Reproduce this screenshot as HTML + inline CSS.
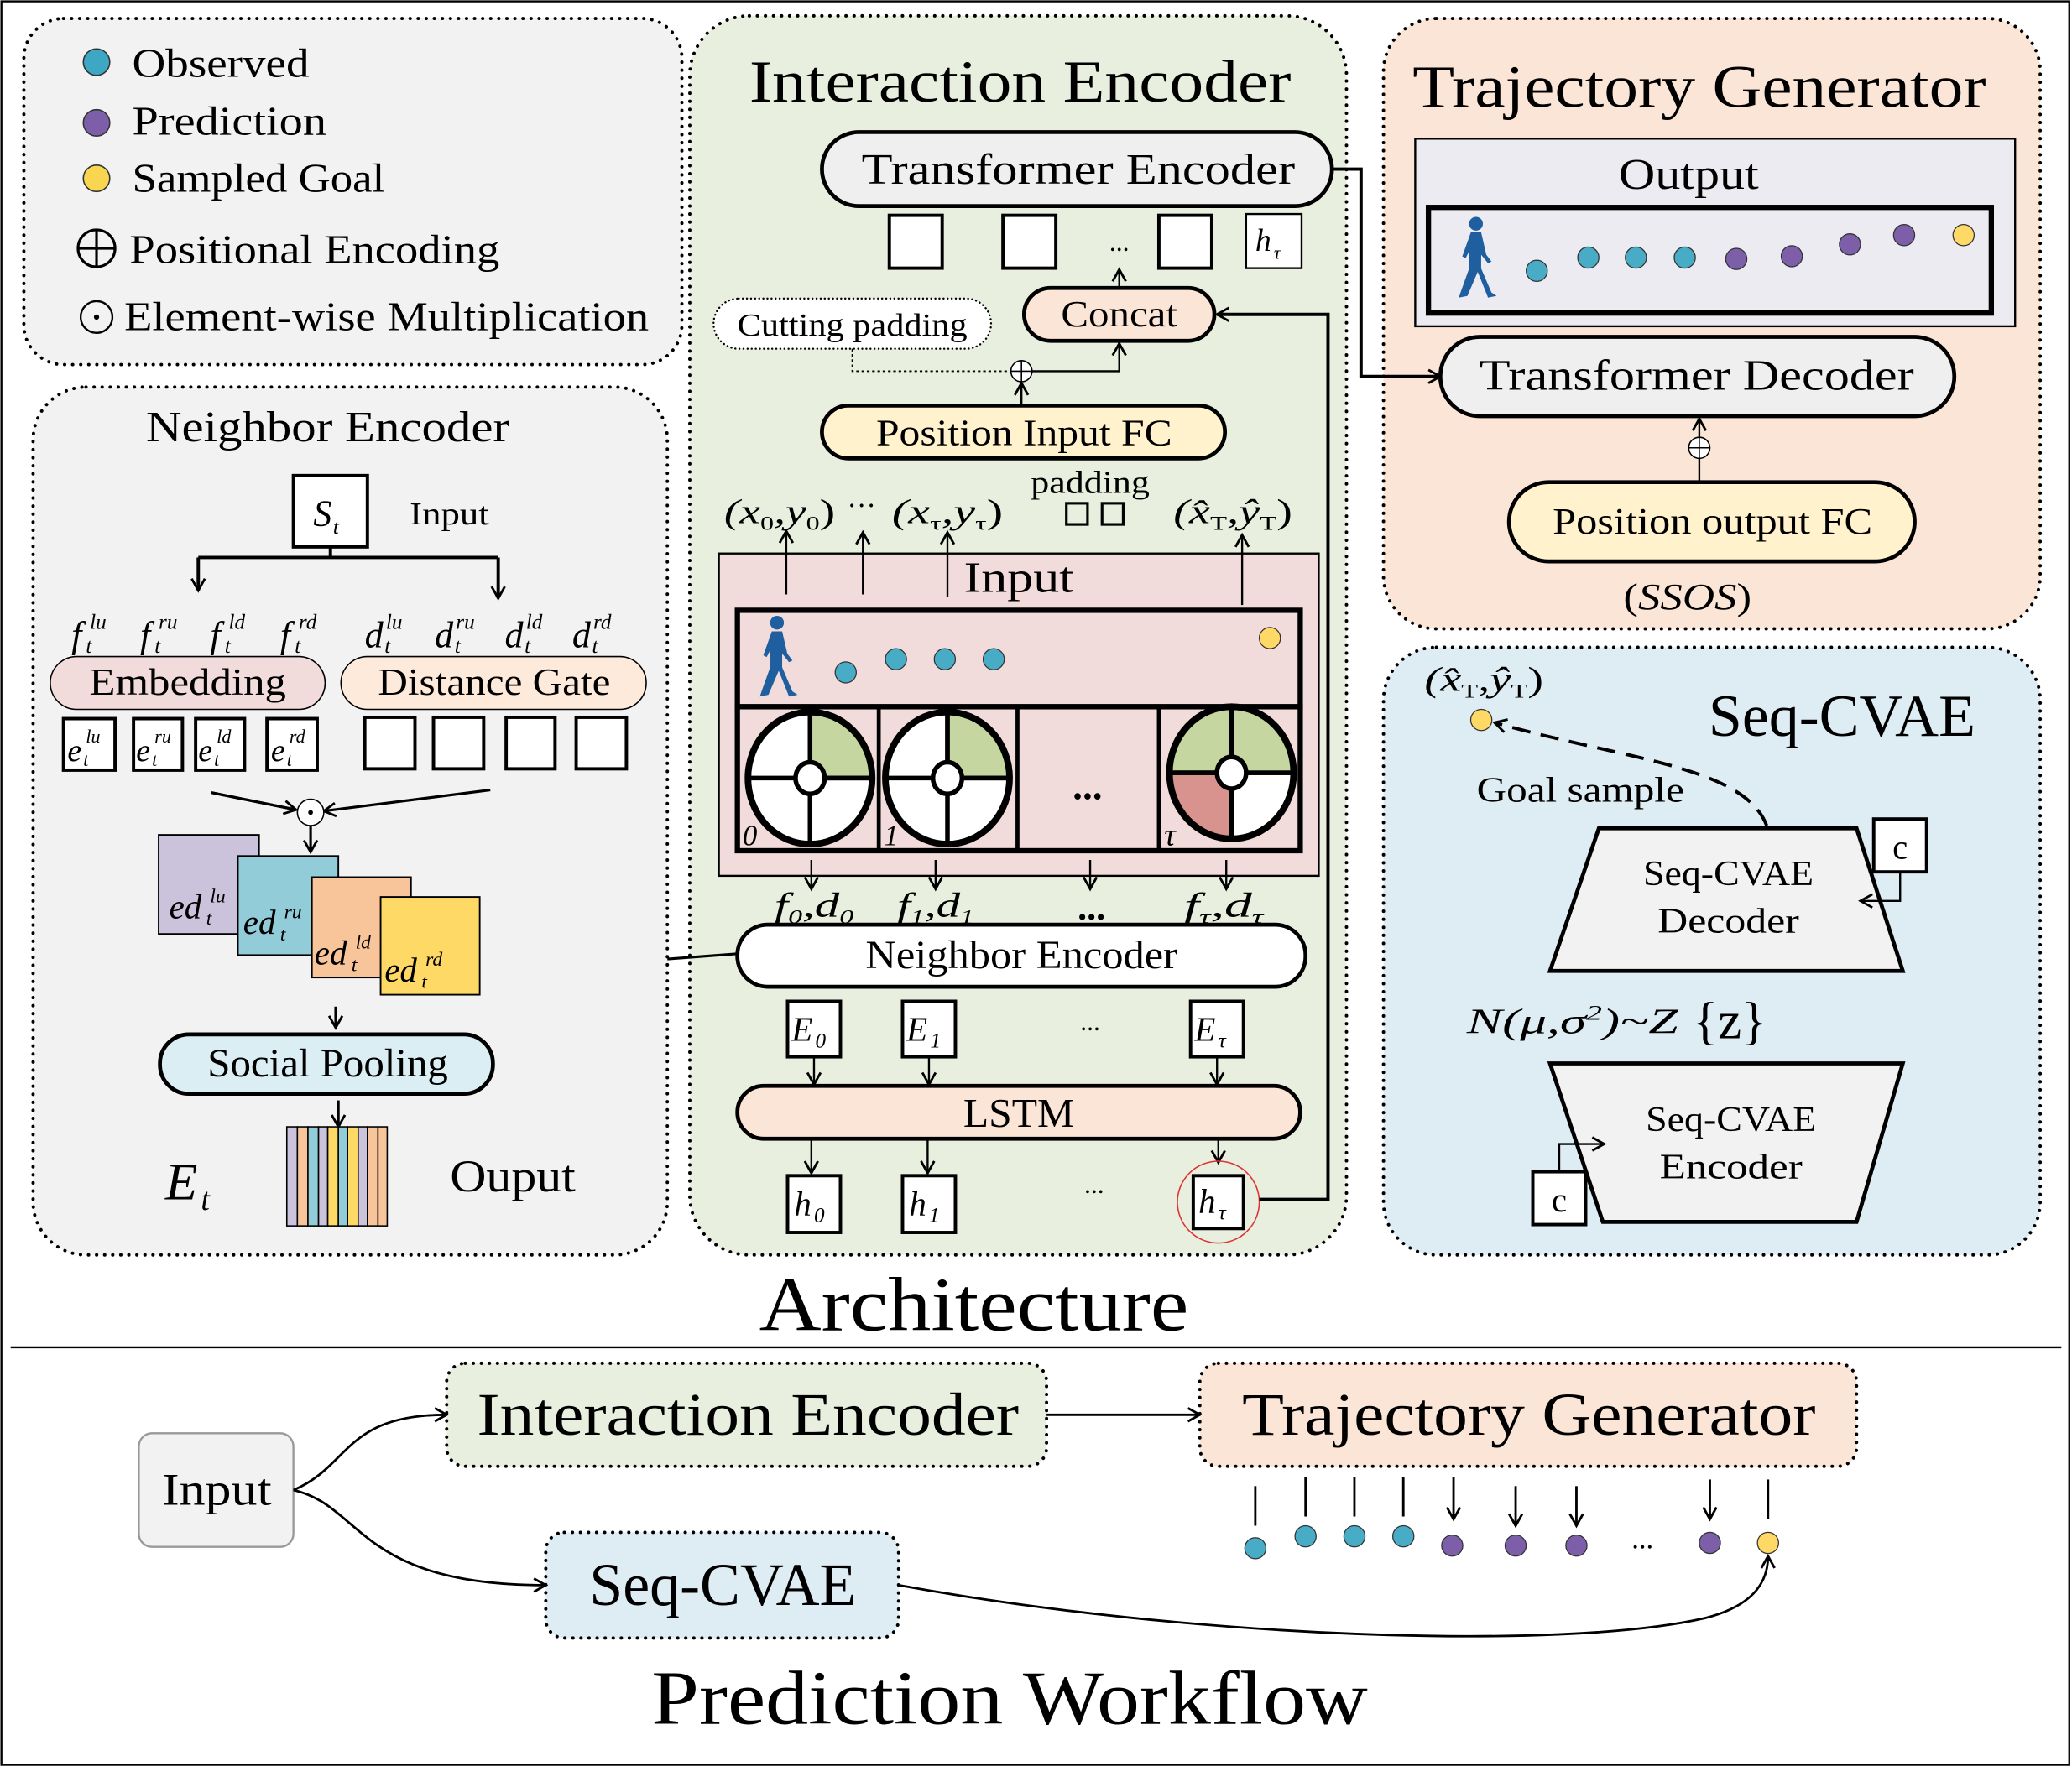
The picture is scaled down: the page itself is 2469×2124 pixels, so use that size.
<!DOCTYPE html>
<html><head><meta charset="utf-8"><style>
html,body{margin:0;padding:0;background:#fff}
svg{display:block}
text{font-family:"Liberation Serif","DejaVu Serif",serif;fill:#000}
.i{font-style:italic}
</style></head><body>
<svg width="2469" height="2124" viewBox="0 0 1568 1349" xmlns="http://www.w3.org/2000/svg">
<defs>
<marker id="a" markerWidth="12" markerHeight="12" refX="10" refY="6" orient="auto" markerUnits="userSpaceOnUse"><path d="M1,1 L10,6 L1,11" fill="none" stroke="#000" stroke-width="1.8"/></marker>
<g id="ped"><circle cx="0" cy="-22" r="4" fill="#1f5fa0"/><path d="M-3,-17 L3,-17 L6,-4 L9,0 L7,1 L3,-4 L3,4 L9,18 L12,20 L7,21 L1,6 L-5,20 L-10,21 L-9,18 L-4,4 L-4,-6 L-6,-2 L-8,-3 Z" fill="#1f5fa0"/></g>
</defs>
<rect x="1" y="1" width="1565" height="1335" fill="#fff" stroke="#000" stroke-width="1.5"/>
<line x1="8" y1="1020" x2="1560" y2="1020" stroke="#000" stroke-width="1.5"/>

<g stroke="#000" stroke-width="2.5" stroke-dasharray="0.1 6" stroke-linecap="round">
<rect x="18" y="14" width="498" height="262" rx="30" fill="#f2f2f2"/>
<rect x="25" y="293" width="480" height="657" rx="40" fill="#f2f2f2"/>
<rect x="522" y="12" width="497" height="938" rx="45" fill="#e9efdf"/>
<rect x="1047" y="14" width="497" height="462" rx="40" fill="#fbe5d6"/>
<rect x="1047" y="490" width="497" height="460" rx="40" fill="#deedf3"/>
<rect x="338" y="1032" width="454" height="78" rx="14" fill="#e9efdf"/>
<rect x="908" y="1032" width="497" height="78" rx="14" fill="#fbe5d6"/>
<rect x="413" y="1160" width="267" height="80" rx="14" fill="#deedf3"/>
<rect x="540" y="226" width="210" height="38" rx="19" fill="#fff" stroke-width="1.5" stroke-dasharray="0.1 3"/>
</g>

<!-- Legend -->
<circle cx="73" cy="47" r="10" fill="#3ea8c4" stroke="#333"/>
<circle cx="73" cy="93" r="10" fill="#7c5fa8" stroke="#333"/>
<circle cx="73" cy="135" r="10" fill="#f8d650" stroke="#333"/>
<text x="100" y="58" font-size="31" textLength="134" lengthAdjust="spacingAndGlyphs">Observed</text>
<text x="100" y="102" font-size="31" textLength="147" lengthAdjust="spacingAndGlyphs">Prediction</text>
<text x="100" y="145" font-size="31" textLength="191" lengthAdjust="spacingAndGlyphs">Sampled Goal</text>
<circle cx="73" cy="188" r="14" fill="none" stroke="#000" stroke-width="2"/><path d="M59,188h28M73,174v28" stroke="#000" stroke-width="2"/>
<text x="98" y="199" font-size="31" textLength="280" lengthAdjust="spacingAndGlyphs">Positional Encoding</text>
<circle cx="73" cy="240" r="12" fill="none" stroke="#000" stroke-width="1.5"/><circle cx="73" cy="240" r="2" fill="#000"/>
<text x="94" y="250" font-size="31" textLength="397" lengthAdjust="spacingAndGlyphs">Element-wise Multiplication</text>

<!-- Neighbor Encoder -->
<text x="248" y="334" font-size="33" text-anchor="middle" textLength="275" lengthAdjust="spacingAndGlyphs">Neighbor Encoder</text>
<rect x="222" y="360" width="56" height="54" fill="#fff" stroke="#000" stroke-width="2.5"/>
<text x="237" y="398" font-size="28" class="i">S</text><text x="252" y="404" font-size="16" class="i">t</text>
<text x="340" y="397" font-size="24" text-anchor="middle" textLength="60" lengthAdjust="spacingAndGlyphs">Input</text>
<path d="M250,414 V422 M150,422 H377" stroke="#000" stroke-width="2.5" fill="none"/>
<path d="M150,422 V447" stroke="#000" stroke-width="2.5" marker-end="url(#a)"/>
<path d="M377,422 V453" stroke="#000" stroke-width="2.5" marker-end="url(#a)"/>
<g class="i">
<g font-size="28"><text x="54" y="490">f</text><text x="106" y="490">f</text><text x="159" y="490">f</text><text x="212" y="490">f</text>
<text x="276" y="490">d</text><text x="329" y="490">d</text><text x="382" y="490">d</text><text x="433" y="490">d</text></g>
<g font-size="16"><text x="68" y="476">lu</text><text x="120" y="476">ru</text><text x="173" y="476">ld</text><text x="226" y="476">rd</text>
<text x="292" y="476">lu</text><text x="345" y="476">ru</text><text x="398" y="476">ld</text><text x="449" y="476">rd</text>
<text x="65" y="494">t</text><text x="117" y="494">t</text><text x="170" y="494">t</text><text x="223" y="494">t</text>
<text x="291" y="494">t</text><text x="344" y="494">t</text><text x="397" y="494">t</text><text x="448" y="494">t</text></g>
</g>
<rect x="38" y="497" width="208" height="40" rx="20" fill="#f2dcdb" stroke="#000" stroke-width="1"/>
<text x="142" y="526" font-size="29" text-anchor="middle" textLength="149" lengthAdjust="spacingAndGlyphs">Embedding</text>
<rect x="258" y="497" width="231" height="40" rx="20" fill="#fdeadb" stroke="#000" stroke-width="1"/>
<text x="374" y="526" font-size="29" text-anchor="middle" textLength="176" lengthAdjust="spacingAndGlyphs">Distance Gate</text>
<g fill="#fff" stroke="#000" stroke-width="2.5">
<rect x="48" y="544" width="39" height="39"/><rect x="101" y="544" width="37" height="39"/><rect x="148" y="544" width="37" height="39"/><rect x="202" y="544" width="38" height="39"/>
<rect x="276" y="543" width="38" height="39"/><rect x="328" y="543" width="38" height="39"/><rect x="383" y="543" width="37" height="39"/><rect x="436" y="543" width="38" height="39"/>
</g>
<g class="i">
<g font-size="24"><text x="51" y="576">e</text><text x="103" y="576">e</text><text x="150" y="576">e</text><text x="205" y="576">e</text></g>
<g font-size="14"><text x="65" y="562">lu</text><text x="117" y="562">ru</text><text x="164" y="562">ld</text><text x="219" y="562">rd</text>
<text x="63" y="580">t</text><text x="115" y="580">t</text><text x="162" y="580">t</text><text x="217" y="580">t</text></g>
</g>
<path d="M160,600 L224,613 M371,598 L245,614" stroke="#000" stroke-width="2" marker-end="url(#a)"/>
<path d="M160,600 L224,613" stroke="#000" stroke-width="2" marker-end="url(#a)"/>
<circle cx="235" cy="615" r="10" fill="#fff" stroke="#000"/><circle cx="235" cy="615" r="1.8" fill="#000"/>
<path d="M235,625 V645" stroke="#000" stroke-width="2" marker-end="url(#a)"/>
<g stroke="#000" stroke-width="1.2">
<rect x="120" y="632" width="76" height="75" fill="#cbc3db"/>
<rect x="180" y="648" width="76" height="75" fill="#92ccd9"/>
<rect x="236" y="664" width="75" height="76" fill="#f8c59a"/>
<rect x="288" y="679" width="75" height="74" fill="#fed966"/>
</g>
<g class="i">
<g font-size="26"><text x="128" y="695">ed</text><text x="184" y="707">ed</text><text x="238" y="730">ed</text><text x="291" y="743">ed</text></g>
<g font-size="15"><text x="159" y="683">lu</text><text x="215" y="695">ru</text><text x="269" y="718">ld</text><text x="322" y="731">rd</text>
<text x="156" y="700">t</text><text x="212" y="712">t</text><text x="266" y="735">t</text><text x="319" y="748">t</text></g>
</g>
<path d="M254,762 V778" stroke="#000" stroke-width="2" marker-end="url(#a)"/>
<rect x="121" y="783" width="252" height="45" rx="22" fill="#dbeef4" stroke="#000" stroke-width="3"/>
<text x="248" y="815" font-size="30" text-anchor="middle" textLength="182" lengthAdjust="spacingAndGlyphs">Social Pooling</text>
<g stroke="#000" stroke-width="1">
<rect x="217" y="853" width="8" height="75" fill="#cbc3db"/><rect x="225" y="853" width="8" height="75" fill="#f8c59a"/>
<rect x="233" y="853" width="8" height="75" fill="#92ccd9"/><rect x="241" y="853" width="7" height="75" fill="#cbc3db"/>
<rect x="248" y="853" width="8" height="75" fill="#fed966"/><rect x="256" y="853" width="7" height="75" fill="#92ccd9"/>
<rect x="263" y="853" width="8" height="75" fill="#fed966"/><rect x="271" y="853" width="7" height="75" fill="#cbc3db"/>
<rect x="278" y="853" width="8" height="75" fill="#f8c59a"/><rect x="286" y="853" width="7" height="75" fill="#f8c59a"/>
</g>
<path d="M256,833 V853" stroke="#000" stroke-width="2" marker-end="url(#a)"/>
<text x="125" y="908" font-size="40" class="i">E</text><text x="152" y="916" font-size="24" class="i">t</text>
<text x="388" y="902" font-size="34" text-anchor="middle" textLength="95" lengthAdjust="spacingAndGlyphs">Ouput</text>

<!-- Interaction Encoder -->
<text x="772" y="77" font-size="45" text-anchor="middle" textLength="410" lengthAdjust="spacingAndGlyphs">Interaction Encoder</text>
<rect x="622" y="100" width="386" height="56" rx="28" fill="#efefef" stroke="#000" stroke-width="3"/>
<text x="816" y="139" font-size="33" text-anchor="middle" textLength="328" lengthAdjust="spacingAndGlyphs">Transformer Encoder</text>
<g fill="#fff" stroke="#000" stroke-width="2.5">
<rect x="673" y="163" width="40" height="40"/><rect x="759" y="163" width="40" height="40"/><rect x="877" y="163" width="40" height="40"/>
<rect x="943" y="162" width="42" height="41" stroke-width="1.5"/>
</g>
<text x="847" y="190" font-size="20" text-anchor="middle">...</text>
<text x="950" y="190" font-size="24" class="i">h</text><text x="964" y="196" font-size="14" class="i">τ</text>
<path d="M847,218 V204" stroke="#000" stroke-width="1.5" marker-end="url(#a)"/>
<rect x="775" y="218" width="144" height="40" rx="20" fill="#fbe5d6" stroke="#000" stroke-width="3"/>
<text x="847" y="247" font-size="28" text-anchor="middle" textLength="88" lengthAdjust="spacingAndGlyphs">Concat</text>
<text x="645" y="254" font-size="24" text-anchor="middle" textLength="174" lengthAdjust="spacingAndGlyphs">Cutting padding</text>
<path d="M645,264 V281 H765" stroke="#000" stroke-width="1.2" stroke-dasharray="2 2" fill="none"/>
<circle cx="773" cy="281" r="8" fill="#fff" stroke="#000" stroke-width="1"/><path d="M765,281h16M773,273v16" stroke="#000" stroke-width="1"/>
<path d="M781,281 H847 V260" stroke="#000" stroke-width="1.5" fill="none" marker-end="url(#a)"/>
<path d="M773,306 V290" stroke="#000" stroke-width="1.5" marker-end="url(#a)"/>
<rect x="622" y="307" width="305" height="40" rx="20" fill="#fff2cc" stroke="#000" stroke-width="3"/>
<text x="775" y="337" font-size="28" text-anchor="middle" textLength="224" lengthAdjust="spacingAndGlyphs">Position Input FC</text>
<text x="590" y="396" font-size="26" text-anchor="middle" textLength="84" lengthAdjust="spacingAndGlyphs"><tspan class="i">(x</tspan><tspan font-size="15" dy="5">0</tspan><tspan dy="-5" class="i">,y</tspan><tspan font-size="15" dy="5">0</tspan><tspan dy="-5">)</tspan></text>
<text x="652" y="390" font-size="22" text-anchor="middle">···</text>
<text x="717" y="396" font-size="26" text-anchor="middle" textLength="84" lengthAdjust="spacingAndGlyphs"><tspan class="i">(x</tspan><tspan font-size="15" dy="5">τ</tspan><tspan dy="-5" class="i">,y</tspan><tspan font-size="15" dy="5">τ</tspan><tspan dy="-5">)</tspan></text>
<text x="825" y="373" font-size="24" text-anchor="middle" textLength="90" lengthAdjust="spacingAndGlyphs">padding</text>
<rect x="807" y="381" width="16" height="16" fill="none" stroke="#000" stroke-width="2"/><rect x="834" y="381" width="16" height="16" fill="none" stroke="#000" stroke-width="2"/>
<text x="933" y="396" font-size="26" text-anchor="middle" textLength="90" lengthAdjust="spacingAndGlyphs"><tspan class="i">(x̂</tspan><tspan font-size="15" dy="5">T</tspan><tspan dy="-5" class="i">,ŷ</tspan><tspan font-size="15" dy="5">T</tspan><tspan dy="-5">)</tspan></text>
<rect x="544" y="419" width="454" height="244" fill="#f2dcdb" stroke="#000" stroke-width="1.5"/>
<text x="771" y="448" font-size="33" text-anchor="middle" textLength="83" lengthAdjust="spacingAndGlyphs">Input</text>
<g stroke="#000" stroke-width="1.5" marker-end="url(#a)">
<path d="M595,450 V402"/><path d="M653,450 V403"/><path d="M717,452 V403"/><path d="M940,458 V405"/>
</g>
<rect x="558" y="462" width="426" height="73" fill="#f2dcdb" stroke="#000" stroke-width="4"/>
<use href="#ped" transform="translate(588,500) scale(1.3)"/>
<g stroke="#333" stroke-width="0.8" fill="#48acc6"><circle cx="640" cy="509" r="8"/><circle cx="678" cy="499" r="8"/><circle cx="715" cy="499" r="8"/><circle cx="752" cy="499" r="8"/></g>
<circle cx="961" cy="483" r="8" fill="#fed966" stroke="#333" stroke-width="0.8"/>
<rect x="558" y="535" width="426" height="109" fill="#f2dcdb" stroke="#000" stroke-width="4"/>
<path d="M665,535 V644 M770,535 V644 M877,535 V644" stroke="#000" stroke-width="3"/>
<g stroke="#000" stroke-width="3.5">
<g transform="translate(613,589)"><ellipse rx="47" ry="50" fill="#fff"/><path d="M0,0 V-50 A47,50 0 0 1 47,0 Z" fill="#c5d6a1"/><path d="M-47,0 H47 M0,-50 V50"/><ellipse rx="47" ry="50" fill="none" stroke-width="5"/><ellipse rx="11" ry="12" fill="#fff"/></g>
<g transform="translate(717,589)"><ellipse rx="47" ry="50" fill="#fff"/><path d="M0,0 V-50 A47,50 0 0 1 47,0 Z" fill="#c5d6a1"/><path d="M-47,0 H47 M0,-50 V50"/><ellipse rx="47" ry="50" fill="none" stroke-width="5"/><ellipse rx="11" ry="12" fill="#fff"/></g>
<g transform="translate(932,585)"><ellipse rx="47" ry="50" fill="#fff"/><path d="M-47,0 A47,50 0 0 1 47,0 Z" fill="#c5d6a1"/><path d="M0,0 H-47 A47,50 0 0 0 0,50 Z" fill="#d8938f"/><path d="M-47,0 H47 M0,-50 V50"/><ellipse rx="47" ry="50" fill="none" stroke-width="5"/><ellipse rx="11" ry="12" fill="#fff"/></g>
</g>
<text x="562" y="640" font-size="22" class="i">0</text><text x="669" y="640" font-size="22" class="i">1</text><text x="881" y="640" font-size="24" class="i">τ</text>
<text x="823" y="605" font-size="30" text-anchor="middle" font-weight="bold">...</text>
<g stroke="#000" stroke-width="1.5" marker-end="url(#a)">
<path d="M614,651 V673"/><path d="M708,651 V673"/><path d="M825,651 V673"/><path d="M928,651 V673"/>
</g>
<g font-size="26" class="i" text-anchor="middle">
<text x="616" y="694" textLength="60" lengthAdjust="spacingAndGlyphs">f<tspan font-size="15" dy="5">0</tspan><tspan dy="-5">,d</tspan><tspan font-size="15" dy="5">0</tspan></text>
<text x="708" y="694" textLength="58" lengthAdjust="spacingAndGlyphs">f<tspan font-size="15" dy="5">1</tspan><tspan dy="-5">,d</tspan><tspan font-size="15" dy="5">1</tspan></text>
<text x="926" y="694" textLength="60" lengthAdjust="spacingAndGlyphs">f<tspan font-size="15" dy="5">τ</tspan><tspan dy="-5">,d</tspan><tspan font-size="15" dy="5">τ</tspan></text>
</g>
<text x="826" y="696" font-size="28" text-anchor="middle" font-weight="bold">...</text>
<path d="M505,726 L558,722" stroke="#000" stroke-width="2"/>
<rect x="558" y="700" width="430" height="47" rx="23" fill="#fff" stroke="#000" stroke-width="3"/>
<text x="773" y="733" font-size="30" text-anchor="middle" textLength="236" lengthAdjust="spacingAndGlyphs">Neighbor Encoder</text>
<g fill="#fff" stroke="#000" stroke-width="2.5">
<rect x="596" y="758" width="40" height="42"/><rect x="683" y="758" width="40" height="42"/><rect x="901" y="758" width="40" height="42"/>
</g>
<g class="i"><g font-size="26"><text x="599" y="788">E</text><text x="686" y="788">E</text><text x="904" y="788">E</text></g>
<g font-size="16"><text x="617" y="793">0</text><text x="704" y="793">1</text><text x="922" y="793">τ</text></g></g>
<text x="825" y="780" font-size="20" text-anchor="middle">...</text>
<g stroke="#000" stroke-width="1.5" marker-end="url(#a)">
<path d="M616,801 V821"/><path d="M703,801 V821"/><path d="M921,801 V821"/>
<path d="M614,863 V888"/><path d="M702,863 V888"/><path d="M922,863 V880"/>
</g>
<rect x="558" y="822" width="426" height="40" rx="20" fill="#fbe5d6" stroke="#000" stroke-width="3"/>
<text x="771" y="853" font-size="31" text-anchor="middle" textLength="84" lengthAdjust="spacingAndGlyphs">LSTM</text>
<g fill="#fff" stroke="#000" stroke-width="2.5">
<rect x="596" y="890" width="40" height="43"/><rect x="683" y="890" width="40" height="43"/><rect x="903" y="890" width="38" height="40"/>
</g>
<circle cx="922" cy="910" r="31" fill="none" stroke="#d33" stroke-width="1"/>
<g class="i"><g font-size="26"><text x="601" y="920">h</text><text x="688" y="920">h</text><text x="907" y="918">h</text></g>
<g font-size="16"><text x="616" y="925">0</text><text x="703" y="925">1</text><text x="922" y="923">τ</text></g></g>
<text x="828" y="903" font-size="20" text-anchor="middle">...</text>
<path d="M953,908 H1005 V238 H921" stroke="#000" stroke-width="2.5" fill="none" marker-end="url(#a)"/>
<path d="M1008,128 H1030 V285 H1090" stroke="#000" stroke-width="2.5" fill="none" marker-end="url(#a)"/>

<!-- Trajectory Generator -->
<text x="1286" y="81" font-size="46" text-anchor="middle" textLength="434" lengthAdjust="spacingAndGlyphs">Trajectory Generator</text>
<rect x="1071" y="105" width="454" height="142" fill="#ecebf2" stroke="#000" stroke-width="1.5"/>
<text x="1278" y="143" font-size="33" text-anchor="middle" textLength="106" lengthAdjust="spacingAndGlyphs">Output</text>
<rect x="1081" y="157" width="426" height="80" fill="#ecebf2" stroke="#000" stroke-width="4"/>
<use href="#ped" transform="translate(1117,198) scale(1.3)"/>
<g stroke="#333" stroke-width="0.8">
<circle cx="1163" cy="205" r="8" fill="#48acc6"/><circle cx="1202" cy="195" r="8" fill="#48acc6"/><circle cx="1238" cy="195" r="8" fill="#48acc6"/><circle cx="1275" cy="195" r="8" fill="#48acc6"/>
<circle cx="1314" cy="196" r="8" fill="#7c5fa8"/><circle cx="1356" cy="194" r="8" fill="#7c5fa8"/><circle cx="1400" cy="185" r="8" fill="#7c5fa8"/><circle cx="1441" cy="178" r="8" fill="#7c5fa8"/><circle cx="1486" cy="178" r="8" fill="#fed966"/>
</g>
<rect x="1090" y="255" width="389" height="60" rx="30" fill="#efefef" stroke="#000" stroke-width="3"/>
<text x="1284" y="295" font-size="33" text-anchor="middle" textLength="329" lengthAdjust="spacingAndGlyphs">Transformer Decoder</text>
<circle cx="1286" cy="339" r="8" fill="#fff" stroke="#000" stroke-width="1"/><path d="M1278,339h16M1286,331v16" stroke="#000" stroke-width="1"/>
<path d="M1286,331 V317" stroke="#000" stroke-width="1.5" marker-end="url(#a)"/>
<path d="M1286,347 V365" stroke="#000" stroke-width="1.5"/>
<rect x="1142" y="365" width="307" height="60" rx="30" fill="#fff2cc" stroke="#000" stroke-width="3"/>
<text x="1296" y="404" font-size="28" text-anchor="middle" textLength="242" lengthAdjust="spacingAndGlyphs">Position output FC</text>
<text x="1277" y="461" font-size="28" text-anchor="middle" textLength="97" lengthAdjust="spacingAndGlyphs">(<tspan class="i">SSOS</tspan>)</text>

<!-- Seq-CVAE -->
<text x="1394" y="557" font-size="45" text-anchor="middle" textLength="202" lengthAdjust="spacingAndGlyphs">Seq-CVAE</text>
<text x="1123" y="523" font-size="26" text-anchor="middle" textLength="90" lengthAdjust="spacingAndGlyphs"><tspan class="i">(x̂</tspan><tspan font-size="15" dy="5">T</tspan><tspan dy="-5" class="i">,ŷ</tspan><tspan font-size="15" dy="5">T</tspan><tspan dy="-5">)</tspan></text>
<circle cx="1121" cy="545" r="8" fill="#fed966" stroke="#333" stroke-width="0.8"/>
<path d="M1337,625 C1320,580 1230,575 1131,547" stroke="#000" stroke-width="2.5" stroke-dasharray="14 8" fill="none" marker-end="url(#a)"/>
<text x="1196" y="607" font-size="27" text-anchor="middle" textLength="157" lengthAdjust="spacingAndGlyphs">Goal sample</text>
<path d="M1210,627 H1405 L1440,735 H1173 Z" fill="#f2f2f2" stroke="#000" stroke-width="3"/>
<text x="1308" y="670" font-size="27" text-anchor="middle" textLength="129" lengthAdjust="spacingAndGlyphs">Seq-CVAE</text>
<text x="1308" y="706" font-size="27" text-anchor="middle" textLength="107" lengthAdjust="spacingAndGlyphs">Decoder</text>
<rect x="1418" y="620" width="40" height="40" fill="#fff" stroke="#000" stroke-width="2.5"/>
<text x="1438" y="650" font-size="26" text-anchor="middle">c</text>
<path d="M1438,660 V682 H1408" stroke="#000" stroke-width="1.5" fill="none" marker-end="url(#a)"/>
<text x="1110" y="782" font-size="27" class="i" textLength="160" lengthAdjust="spacingAndGlyphs">N(μ,σ<tspan font-size="16" dy="-10">2</tspan><tspan dy="10">)~Z</tspan></text>
<text x="1281" y="786" font-size="40">{z}</text>
<path d="M1173,805 H1440 L1405,925 H1213 Z" fill="#f2f2f2" stroke="#000" stroke-width="3"/>
<text x="1310" y="856" font-size="27" text-anchor="middle" textLength="129" lengthAdjust="spacingAndGlyphs">Seq-CVAE</text>
<text x="1310" y="892" font-size="27" text-anchor="middle" textLength="108" lengthAdjust="spacingAndGlyphs">Encoder</text>
<rect x="1160" y="887" width="40" height="40" fill="#fff" stroke="#000" stroke-width="2.5"/>
<text x="1180" y="917" font-size="26" text-anchor="middle">c</text>
<path d="M1180,887 V866 H1214" stroke="#000" stroke-width="1.5" fill="none" marker-end="url(#a)"/>

<text x="737" y="1007" font-size="58" text-anchor="middle" textLength="325" lengthAdjust="spacingAndGlyphs">Architecture</text>

<!-- Workflow -->
<rect x="105" y="1085" width="117" height="86" rx="10" fill="#f2f2f2" stroke="#999" stroke-width="1.5"/>
<text x="164" y="1139" font-size="34" text-anchor="middle" textLength="83" lengthAdjust="spacingAndGlyphs">Input</text>
<path d="M222,1128 C265,1110 260,1071 338,1071" stroke="#000" stroke-width="1.8" fill="none" marker-end="url(#a)"/>
<path d="M222,1128 C275,1140 270,1200 413,1200" stroke="#000" stroke-width="1.8" fill="none" marker-end="url(#a)"/>
<text x="566" y="1086" font-size="46" text-anchor="middle" textLength="410" lengthAdjust="spacingAndGlyphs">Interaction Encoder</text>
<path d="M792,1071 H908" stroke="#000" stroke-width="1.8" marker-end="url(#a)"/>
<text x="1157" y="1086" font-size="46" text-anchor="middle" textLength="434" lengthAdjust="spacingAndGlyphs">Trajectory Generator</text>
<text x="547" y="1215" font-size="46" text-anchor="middle" textLength="202" lengthAdjust="spacingAndGlyphs">Seq-CVAE</text>
<g stroke="#000" stroke-width="1.8">
<path d="M950,1125 V1155"/><path d="M988,1118 V1148"/><path d="M1025,1118 V1148"/><path d="M1062,1118 V1148"/><path d="M1338,1120 V1150"/>
<path d="M1100,1118 V1150" marker-end="url(#a)"/><path d="M1147,1125 V1155" marker-end="url(#a)"/><path d="M1193,1125 V1155" marker-end="url(#a)"/><path d="M1294,1120 V1150" marker-end="url(#a)"/>
</g>
<g stroke="#333" stroke-width="0.8">
<circle cx="950" cy="1172" r="8" fill="#48acc6"/><circle cx="988" cy="1163" r="8" fill="#48acc6"/><circle cx="1025" cy="1163" r="8" fill="#48acc6"/><circle cx="1062" cy="1163" r="8" fill="#48acc6"/>
<circle cx="1099" cy="1170" r="8" fill="#7c5fa8"/><circle cx="1147" cy="1170" r="8" fill="#7c5fa8"/><circle cx="1193" cy="1170" r="8" fill="#7c5fa8"/><circle cx="1294" cy="1168" r="8" fill="#7c5fa8"/>
<circle cx="1338" cy="1168" r="8" fill="#fed966"/>
</g>
<text x="1243" y="1172" font-size="22" text-anchor="middle">...</text>
<path d="M680,1200 C900,1240 1180,1250 1290,1225 C1330,1215 1338,1195 1338,1178" stroke="#000" stroke-width="1.8" fill="none" marker-end="url(#a)"/>
<text x="764" y="1305" font-size="58" text-anchor="middle" textLength="542" lengthAdjust="spacingAndGlyphs">Prediction Workflow</text>
</svg>
</body></html>
